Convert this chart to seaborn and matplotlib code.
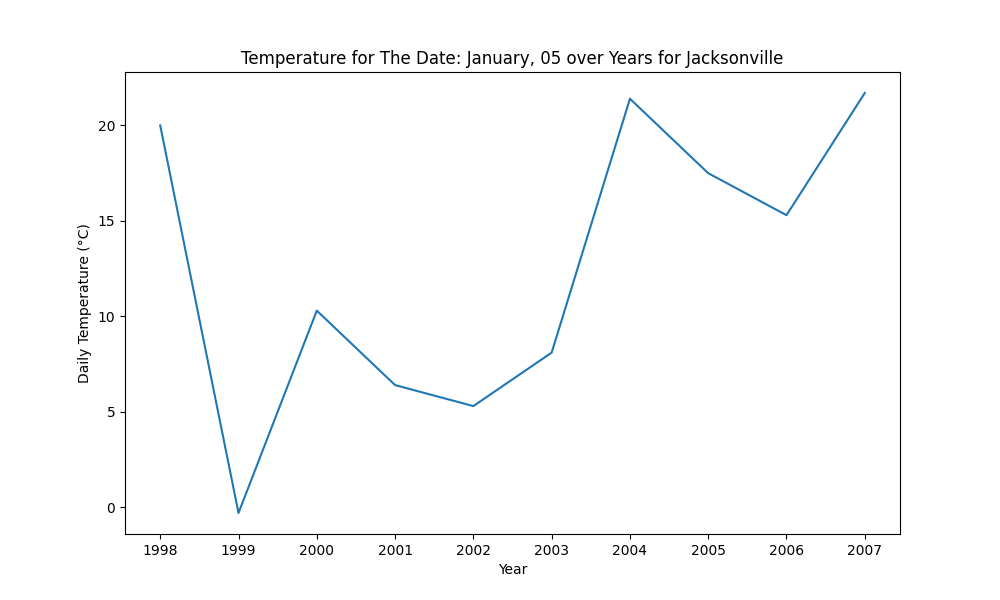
import pandas as pd
import matplotlib
matplotlib.use("Agg")
import matplotlib.pyplot as plt
import seaborn as sns

years = [1998, 1999, 2000, 2001, 2002, 2003, 2004, 2005, 2006, 2007]
temps = [20.0, -0.3, 10.3, 6.4, 5.3, 8.1, 21.4, 17.5, 15.3, 21.7]

df = pd.DataFrame({"Year": years, "Temp": temps})

fig, ax = plt.subplots(figsize=(10, 6), dpi=100)
sns.lineplot(data=df, x="Year", y="Temp", ax=ax)
ax.set_xticks(years)
ax.set_title("Temperature for The Date: January, 05 over Years for Jacksonville")
ax.set_xlabel("Year")
ax.set_ylabel("Daily Temperature (°C)")
fig.savefig("out.png")
